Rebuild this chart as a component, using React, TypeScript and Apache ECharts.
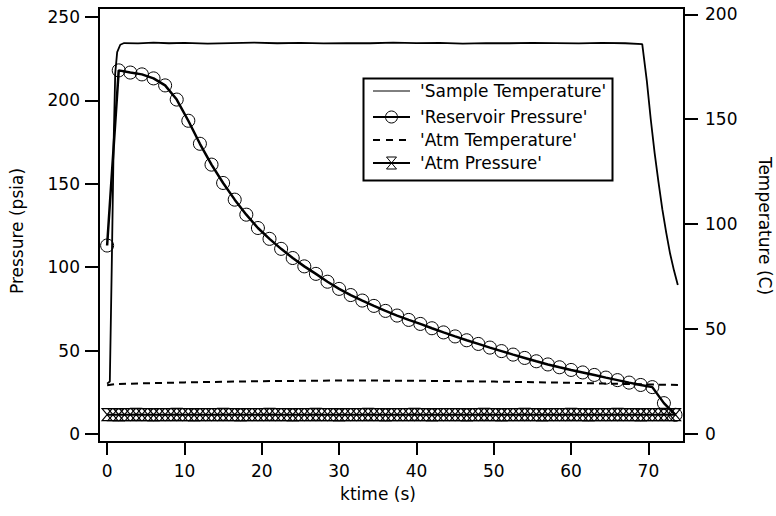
import React, { useEffect, useRef } from 'react';
import * as echarts from 'echarts';

// ---- data ----
const sampleTempTime = [0, 0.35, 0.6, 0.85, 1.05, 1.3, 1.7, 2.2, 4, 6, 8, 10, 13, 16, 19, 22, 25, 28, 31, 34, 37, 40, 43, 46, 49, 52, 55, 58, 61, 64, 67, 69.2, 69.8, 70.3, 70.8, 71.3, 71.8, 72.3, 72.8, 73.3, 73.8];
const sampleTemp = [24, 25, 80, 140, 172, 182, 185.5, 186.3, 186.1, 186.5, 186.2, 186.4, 186.0, 186.3, 186.5, 186.2, 186.4, 186.1, 186.3, 186.2, 186.5, 186.3, 186.4, 186.0, 186.3, 186.2, 186.4, 186.3, 186.1, 186.4, 186.2, 185.8, 168, 150, 134, 120, 107, 96, 86, 78, 71];

const resTime = [0, 1.5, 3, 4.5, 6, 7.5, 9, 10.5, 12, 13.5, 15, 16.5, 18, 19.5, 21, 22.5, 24, 25.5, 27, 28.5, 30, 31.5, 33, 34.5, 36, 37.5, 39, 40.5, 42, 43.5, 45, 46.5, 48, 49.5, 51, 52.5, 54, 55.5, 57, 58.5, 60, 61.5, 63, 64.5, 66, 67.5, 69, 70.5, 72, 73.5];
const resPressure = [113, 218, 216.7, 215.6, 213.2, 209, 200.5, 187.8, 174, 161.5, 150.5, 140.5, 131.5, 123.5, 117, 111, 105.5, 100.5, 96, 91.3, 87, 83.3, 80, 76.8, 73.8, 71, 68.4, 66, 63.4, 60.9, 58.5, 56.2, 54, 51.8, 49.7, 47.6, 45.6, 43.6, 41.7, 40, 38.4, 36.9, 35.4, 33.8, 32.3, 30.8, 29.4, 28.1, 18.5, 11.5];

const atmTempTime = [0, 1, 5, 10, 20, 30, 40, 50, 60, 65, 70, 74];
const atmTemp = [23.2, 23.8, 24.2, 24.6, 25.2, 25.5, 25.4, 25.0, 24.4, 24.0, 23.6, 23.4];

const atmPresTime = [
  0, 0.75, 1.5, 2.25, 3, 3.75, 4.5, 5.25, 6, 6.75, 7.5, 8.25, 9, 9.75, 10.5, 11.25, 12, 12.75, 13.5, 14.25,
  15, 15.75, 16.5, 17.25, 18, 18.75, 19.5, 20.25, 21, 21.75, 22.5, 23.25, 24, 24.75, 25.5, 26.25, 27, 27.75, 28.5, 29.25,
  30, 30.75, 31.5, 32.25, 33, 33.75, 34.5, 35.25, 36, 36.75, 37.5, 38.25, 39, 39.75, 40.5, 41.25, 42, 42.75, 43.5, 44.25,
  45, 45.75, 46.5, 47.25, 48, 48.75, 49.5, 50.25, 51, 51.75, 52.5, 53.25, 54, 54.75, 55.5, 56.25, 57, 57.75, 58.5, 59.25,
  60, 60.75, 61.5, 62.25, 63, 63.75, 64.5, 65.25, 66, 66.75, 67.5, 68.25, 69, 69.75, 70.5, 71.25, 72, 72.75, 73.5,
];
const atmPres = [
  11.6, 11.6, 11.5, 11.6, 11.6, 11.7, 11.6, 11.6, 11.5, 11.6, 11.6, 11.6, 11.7, 11.6, 11.6, 11.5, 11.6, 11.6, 11.6, 11.6,
  11.7, 11.6, 11.6, 11.5, 11.6, 11.6, 11.6, 11.6, 11.7, 11.6, 11.6, 11.6, 11.5, 11.6, 11.6, 11.6, 11.7, 11.6, 11.6, 11.6,
  11.5, 11.6, 11.6, 11.6, 11.6, 11.7, 11.6, 11.6, 11.5, 11.6, 11.6, 11.6, 11.6, 11.7, 11.6, 11.6, 11.5, 11.6, 11.6, 11.6,
  11.6, 11.6, 11.5, 11.6, 11.6, 11.7, 11.6, 11.6, 11.5, 11.6, 11.6, 11.6, 11.7, 11.6, 11.6, 11.5, 11.6, 11.6, 11.6, 11.6,
  11.7, 11.6, 11.6, 11.5, 11.6, 11.6, 11.6, 11.6, 11.7, 11.6, 11.6, 11.6, 11.5, 11.6, 11.6, 11.6, 11.7, 11.6, 11.6,
];

const xTicks = [0, 10, 20, 30, 40, 50, 60, 70];
const pressureTicks = [0, 50, 100, 150, 200, 250];
const tempTicks = [0, 50, 100, 150, 200];

const legendNames = ["'Sample Temperature'", "'Reservoir Pressure'", "'Atm Temperature'", "'Atm Pressure'"];

const FONT = 'DejaVu Sans';
const FS = 17;
const HOURGLASS = 'path://M0 0L10 0L0 12L10 12Z';

function zip(xs: number[], ys: number[]) {
  return xs.map((x, i) => [x, ys[i]]);
}

export default function App() {
  const ref = useRef<HTMLDivElement>(null);
  useEffect(() => {
    const chart = echarts.init(ref.current!, null, { renderer: 'svg' });
    const axisCommon = {
      type: 'value',
      splitLine: { show: false },
      axisLine: { show: true, onZero: false, lineStyle: { color: '#000', width: 2 } },
    };
    const labelStyle = { color: '#000', fontSize: FS, fontFamily: FONT };
    const ly = [91, 117, 140, 163];
    chart.setOption({
      animation: false,
      backgroundColor: '#fff',
      grid: { left: 99, right: 92, top: 8, bottom: 74, show: true, borderColor: '#000', borderWidth: 2 },
      xAxis: {
        ...axisCommon,
        min: -1.05,
        max: 74.6,
        axisTick: { show: true, length: 13, lineStyle: { color: '#000', width: 2 }, customValues: xTicks },
        axisLabel: { ...labelStyle, margin: 20, customValues: xTicks },
      },
      yAxis: [
        {
          ...axisCommon,
          position: 'left',
          min: -4.8,
          max: 255.4,
          axisTick: { show: true, length: 14, lineStyle: { color: '#000', width: 2 }, customValues: pressureTicks },
          axisLabel: { ...labelStyle, margin: 19, customValues: pressureTicks },
        },
        {
          ...axisCommon,
          position: 'right',
          min: -3.8,
          max: 203,
          axisTick: { show: true, length: 14, lineStyle: { color: '#000', width: 2 }, customValues: tempTicks },
          axisLabel: { ...labelStyle, margin: 21, customValues: tempTicks },
        },
      ],
      series: [
        {
          name: legendNames[0], type: 'line', yAxisIndex: 1, data: zip(sampleTempTime, sampleTemp),
          symbol: 'none', lineStyle: { color: '#000', width: 1.8 },
        },
        {
          name: legendNames[2], type: 'line', yAxisIndex: 1, data: zip(atmTempTime, atmTemp),
          symbol: 'none', lineStyle: { color: '#000', width: 2, type: [7, 5] },
        },
        {
          name: legendNames[3], type: 'line', yAxisIndex: 0, data: zip(atmPresTime, atmPres),
          symbol: HOURGLASS, symbolSize: [10, 12],
          itemStyle: { color: 'transparent', borderColor: '#000', borderWidth: 1.2 },
          lineStyle: { color: '#000', width: 2 },
        },
        {
          name: legendNames[1], type: 'line', yAxisIndex: 0, data: zip(resTime, resPressure),
          symbol: 'circle', symbolSize: 13,
          itemStyle: { color: 'transparent', borderColor: '#000', borderWidth: 1 },
          lineStyle: { color: '#000', width: 2.5 },
        },
      ],
      graphic: {
        elements: [
          { type: 'text', x: 17, y: 231, rotation: Math.PI / 2, style: { text: 'Pressure (psia)', font: `${FS}px ${FONT}`, fill: '#000', align: 'center', verticalAlign: 'middle' } },
          { type: 'text', x: 765, y: 226, rotation: -Math.PI / 2, style: { text: 'Temperature (C)', font: `${FS}px ${FONT}`, fill: '#000', align: 'center', verticalAlign: 'middle' } },
          { type: 'text', x: 378, y: 494, style: { text: 'ktime (s)', font: `${FS}px ${FONT}`, fill: '#000', align: 'center', verticalAlign: 'middle' } },
          { type: 'rect', z: 100, shape: { x: 363.5, y: 78.5, width: 249, height: 102 }, style: { fill: '#fff', stroke: '#000', lineWidth: 2 } },
          { type: 'line', z: 101, shape: { x1: 373, y1: ly[0], x2: 410, y2: ly[0] }, style: { stroke: '#000', lineWidth: 1 } },
          { type: 'line', z: 101, shape: { x1: 373, y1: ly[1], x2: 410, y2: ly[1] }, style: { stroke: '#000', lineWidth: 2 } },
          { type: 'circle', z: 102, shape: { cx: 391.5, cy: ly[1], r: 6 }, style: { fill: 'transparent', stroke: '#000', lineWidth: 1 } },
          { type: 'line', z: 101, shape: { x1: 373, y1: ly[2], x2: 410, y2: ly[2] }, style: { stroke: '#000', lineWidth: 2, lineDash: [7, 6] } },
          { type: 'line', z: 101, shape: { x1: 373, y1: ly[3], x2: 410, y2: ly[3] }, style: { stroke: '#000', lineWidth: 2 } },
          { type: 'polygon', z: 102, shape: { points: [[386.5, 157], [396.5, 157], [386.5, 169], [396.5, 169]] }, style: { fill: 'transparent', stroke: '#000', lineWidth: 1 } },
          ...legendNames.map((n, i) => ({
            type: 'text', z: 102, x: 420, y: ly[i],
            style: { text: n, font: `${FS}px ${FONT}`, fill: '#000', align: 'left', verticalAlign: 'middle' },
          })),
        ],
      },
    });
    return () => chart.dispose();
  }, []);
  return <div ref={ref} style={{ position: 'fixed', left: 0, top: 0, width: 776, height: 516 }} />;
}
